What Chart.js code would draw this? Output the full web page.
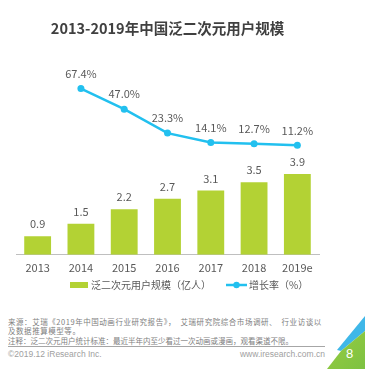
<!DOCTYPE html>
<html>
<head>
<meta charset="utf-8">
<script src="https://cdn.jsdelivr.net/npm/chart.js@4/dist/chart.umd.min.js"></script>
<style>
  html, body { margin: 0; padding: 0; background: #fff; }
  body { width: 365px; height: 369px; position: relative; overflow: hidden;
         font-family: "Noto Sans CJK SC", "Noto Sans", sans-serif; }
  #wrap { position: absolute; left: 0; top: 0; width: 365px; height: 300px; }
  .note { position: absolute; left: 8px; font-size: 7.5px; line-height: 10px; color: #808080; white-space: pre; }
  .rule { position: absolute; left: 8px; width: 317px; top: 346px; height: 0; border-top: 1px solid #a6a6a6; }
  .foot { position: absolute; top: 349px; font-family: "Liberation Sans", Arial, sans-serif; font-size: 8.5px; line-height: 10px; color: #a0a0a0; }
  .corner { position: absolute; left: 0; top: 0; width: 365px; height: 369px; }
</style>
</head>
<body>
<div id="wrap"><canvas id="c" width="365" height="300"></canvas></div>
<div class="note" style="top:317px; letter-spacing:0.55px">来源：艾瑞《2019年中国动画行业研究报告》，  艾瑞研究院综合市场调研、  行业访谈以</div>
<div class="note" style="top:326px; letter-spacing:0.55px">及数据推算模型等。</div>
<div class="note" style="top:336px">注释：泛二次元用户统计标准：最近半年内至少看过一次动画或漫画，观看渠道不限。</div>
<div class="rule"></div>
<div class="foot" style="left:8px">©2019.12 iResearch Inc.</div>
<div class="foot" style="right:40px">www.iresearch.com.cn</div>
<div class="corner" style="background:#3fb7e8; clip-path: polygon(365px 316px, 365px 331px, 341px 351px, 337px 350px);"></div>
<div class="corner" style="background:linear-gradient(135deg, #c9de3a 70%, #7dc242 100%); clip-path: polygon(365px 331px, 365px 369px, 327px 369px, 341px 351px);"></div>
<div style="position:absolute; left:346px; top:346px; font-family:'Liberation Sans',Arial,sans-serif; font-size:13px; color:#fff;">8</div>
<script>
const categories = ['2013', '2014', '2015', '2016', '2017', '2018', '2019e'];
const userScale = [0.9, 1.5, 2.2, 2.7, 3.1, 3.5, 3.9];
const growthRate = [null, 67.4, 47.0, 23.3, 14.1, 12.7, 11.2];
const seriesNames = ['泛二次元用户规模（亿人）', '增长率（%）'];
const chartTitle = '2013-2019年中国泛二次元用户规模';

const BAR_COLOR = '#b3d234';
const LINE_COLOR = '#22c0ef';
const TEXT_COLOR = '#595959';
const FONT = '"Noto Sans CJK SC", "Noto Sans", sans-serif';

const labelPlugin = {
  id: 'valueLabels',
  afterDatasetsDraw(chart) {
    const ctx = chart.ctx;
    ctx.save();
    ctx.font = '11px ' + FONT;
    ctx.fillStyle = TEXT_COLOR;
    ctx.textAlign = 'center';
    ctx.textBaseline = 'middle';
    chart.data.datasets.forEach((ds, i) => {
      const meta = chart.getDatasetMeta(i);
      meta.data.forEach((el, j) => {
        const v = ds.data[j];
        if (v === null || v === undefined) return;
        if (ds.type === 'line') {
          ctx.fillText(v.toFixed(1) + '%', el.x, el.y - 15);
        } else {
          ctx.fillText(v.toFixed(1), el.x, el.y - 12);
        }
      });
    });
    ctx.restore();
  },
  afterDraw(chart) {
    const ctx = chart.ctx;
    const cy = 285;
    ctx.save();
    ctx.font = '10px ' + FONT;
    ctx.textBaseline = 'middle';
    ctx.textAlign = 'left';
    let x = 70;
    ctx.fillStyle = BAR_COLOR;
    ctx.fillRect(x, cy - 3, 18, 6);
    x += 21;
    ctx.fillStyle = TEXT_COLOR;
    ctx.fillText(chart.data.datasets[0].label, x, cy);
    x += ctx.measureText(chart.data.datasets[0].label).width + 15;
    ctx.strokeStyle = LINE_COLOR;
    ctx.lineWidth = 2.5;
    ctx.beginPath();
    ctx.moveTo(x, cy);
    ctx.lineTo(x + 21, cy);
    ctx.stroke();
    ctx.fillStyle = LINE_COLOR;
    ctx.beginPath();
    ctx.arc(x + 10.5, cy, 3.2, 0, Math.PI * 2);
    ctx.fill();
    x += 23;
    ctx.fillStyle = TEXT_COLOR;
    ctx.fillText(chart.data.datasets[1].label, x, cy);
    ctx.restore();
  }
};

new Chart(document.getElementById('c'), {
  data: {
    labels: categories,
    datasets: [
      {
        type: 'bar',
        label: seriesNames[0],
        data: userScale,
        backgroundColor: BAR_COLOR,
        categoryPercentage: 1,
        barPercentage: 0.62,
        yAxisID: 'y',
        order: 1
      },
      {
        type: 'line',
        label: seriesNames[1],
        data: growthRate,
        borderColor: LINE_COLOR,
        backgroundColor: LINE_COLOR,
        borderWidth: 2.5,
        pointRadius: 3.5,
        pointBackgroundColor: LINE_COLOR,
        pointBorderWidth: 0,
        tension: 0,
        yAxisID: 'y2',
        order: 0
      }
    ]
  },
  options: {
    responsive: false,
    animation: false,
    devicePixelRatio: 1,
    layout: { padding: { left: 16, right: 46, top: 0, bottom: 20 } },
    plugins: {
      title: {
        display: true,
        text: chartTitle,
        color: '#404040',
        font: { family: FONT, size: 14.5, weight: 'bold' },
        padding: { top: 20, bottom: 22 }
      },
      legend: { display: false },
      tooltip: { enabled: false }
    },
    scales: {
      x: {
        offset: true,
        grid: { display: false, drawTicks: false },
        border: { display: true, color: '#bfbfbf', width: 1 },
        ticks: { color: TEXT_COLOR, font: { family: FONT, size: 11 }, padding: 6 }
      },
      y: {
        display: false,
        min: 0,
        max: 9.42
      },
      y2: {
        display: false,
        position: 'right',
        min: -97.2,
        max: 96.3
      }
    }
  },
  plugins: [labelPlugin]
});
</script>
</body>
</html>
